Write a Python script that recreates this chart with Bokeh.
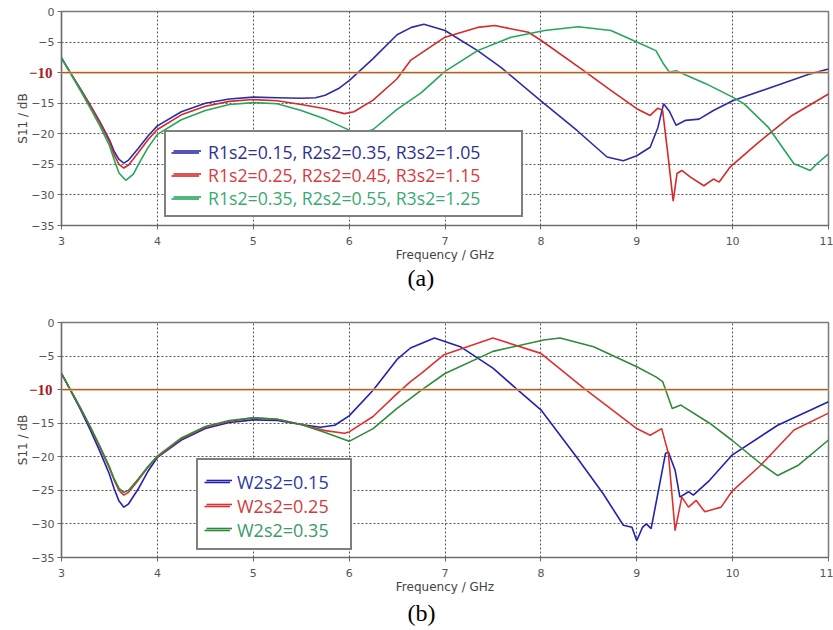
from bokeh.plotting import figure
from bokeh.models import Span, Legend, LegendItem, FixedTicker, Range1d, Title, LinearAxis
from bokeh.layouts import column
from bokeh.embed import file_html
from bokeh.resources import INLINE

# ---------------- data ----------------
FREQ_TICKS = [3, 4, 5, 6, 7, 8, 9, 10, 11]
DB_TICKS = [0, -5, -10, -15, -20, -25, -30, -35]
THRESHOLD_DB = -10

# panel (a)
a_labels = ["R1s2=0.15, R2s2=0.35, R3s2=1.05",
            "R1s2=0.25, R2s2=0.45, R3s2=1.15",
            "R1s2=0.35, R2s2=0.55, R3s2=1.25"]

a_blue_x = [3.0, 3.1, 3.2, 3.3, 3.4, 3.5, 3.55, 3.6, 3.65, 3.7, 3.8, 3.9, 4.0, 4.25, 4.5, 4.75, 5.0, 5.25,
            5.5, 5.65, 5.75, 5.9, 6.0, 6.25, 6.5, 6.65, 6.78, 7.0, 7.34, 7.58, 8.0, 8.38, 8.69, 8.86, 9.0,
            9.14, 9.22, 9.28, 9.34, 9.41, 9.51, 9.65, 9.8, 10.0, 10.46, 10.81, 11.0]
a_blue_y = [-7.6, -10.2, -12.7, -15.3, -18.0, -21.0, -22.9, -24.2, -24.8, -24.3, -22.4, -20.4, -18.7, -16.4,
            -15.0, -14.3, -14.0, -14.1, -14.2, -14.1, -13.7, -12.5, -11.3, -7.7, -3.8, -2.6, -2.1, -3.1, -6.4,
            -9.1, -14.6, -19.5, -23.8, -24.4, -23.6, -22.2, -19.0, -15.1, -16.3, -18.6, -17.8, -17.6, -16.2,
            -14.6, -12.1, -10.2, -9.4]

a_red_x = [3.0, 3.1, 3.2, 3.3, 3.4, 3.5, 3.55, 3.6, 3.65, 3.7, 3.8, 3.9, 4.0, 4.25, 4.5, 4.75, 5.0, 5.25,
           5.5, 5.75, 5.95, 6.05, 6.25, 6.5, 6.64, 7.0, 7.34, 7.52, 7.87, 8.0, 8.45, 8.73, 9.0, 9.14, 9.22,
           9.27, 9.32, 9.38, 9.42, 9.47, 9.56, 9.7, 9.8, 9.86, 9.97, 10.27, 10.62, 11.0]
a_red_y = [-7.6, -10.2, -12.8, -15.4, -18.2, -21.3, -23.5, -25.0, -25.6, -25.1, -23.1, -21.0, -19.3, -16.9,
           -15.5, -14.7, -14.4, -14.6, -15.2, -15.9, -16.7, -16.4, -14.5, -11.0, -8.0, -4.2, -2.6, -2.3, -3.4,
           -4.7, -9.7, -12.9, -15.9, -17.0, -15.8, -16.2, -22.7, -31.0, -26.5, -26.0, -27.1, -28.5, -27.4,
           -27.9, -25.5, -21.4, -17.0, -13.5]

a_green_x = [3.0, 3.1, 3.2, 3.3, 3.4, 3.5, 3.55, 3.6, 3.67, 3.75, 3.8, 3.9, 4.0, 4.25, 4.5, 4.75, 5.0, 5.25,
             5.5, 5.75, 6.0, 6.1, 6.25, 6.5, 6.75, 7.0, 7.34, 7.69, 8.04, 8.39, 8.73, 9.0, 9.2, 9.28, 9.34,
             9.41, 9.72, 10.0, 10.12, 10.37, 10.64, 10.81, 10.88, 11.0]
a_green_y = [-7.6, -10.3, -13.0, -15.8, -18.7, -21.9, -24.3, -26.4, -27.6, -26.6, -25.1, -22.3, -20.1, -17.7,
             -16.2, -15.2, -14.9, -15.1, -16.2, -17.6, -19.4, -20.1, -19.3, -16.0, -13.3, -9.8, -6.4, -4.2,
             -3.1, -2.5, -3.1, -5.0, -6.4, -8.6, -9.9, -9.7, -11.8, -14.0, -15.1, -18.9, -24.9, -26.0, -24.9,
             -23.3]

# panel (b)
b_labels = ["W2s2=0.15", "W2s2=0.25", "W2s2=0.35"]

b_blue_x = [3.0, 3.1, 3.2, 3.3, 3.4, 3.5, 3.55, 3.6, 3.65, 3.7, 3.8, 3.9, 4.0, 4.25, 4.5, 4.75, 5.0, 5.25,
            5.5, 5.7, 5.85, 6.0, 6.25, 6.5, 6.64, 6.89, 7.16, 7.5, 7.74, 8.0, 8.37, 8.65, 8.86, 8.95, 9.0,
            9.06, 9.1, 9.15, 9.24, 9.3, 9.33, 9.4, 9.45, 9.54, 9.59, 9.76, 9.99, 10.47, 11.0]
b_blue_y = [-7.6, -10.3, -13.0, -16.0, -19.2, -22.6, -24.8, -26.6, -27.5, -27.0, -24.8, -22.2, -20.1, -17.5,
            -15.8, -14.9, -14.5, -14.6, -15.2, -15.6, -15.3, -13.9, -10.1, -5.5, -3.8, -2.3, -3.6, -6.8, -9.8,
            -13.0, -20.0, -25.5, -30.2, -30.5, -32.5, -30.5, -30.0, -30.7, -24.0, -19.5, -19.3, -22.0, -26.0,
            -25.2, -25.7, -23.5, -19.8, -15.3, -11.8]

b_red_x = [3.0, 3.1, 3.2, 3.3, 3.4, 3.5, 3.55, 3.6, 3.65, 3.7, 3.8, 3.9, 4.0, 4.25, 4.5, 4.75, 5.0, 5.25,
           5.5, 5.75, 5.95, 6.0, 6.25, 6.5, 6.64, 6.75, 6.99, 7.5, 8.0, 8.45, 9.0, 9.14, 9.26, 9.33, 9.4,
           9.47, 9.54, 9.62, 9.71, 9.88, 9.99, 10.29, 10.64, 11.0]
b_red_y = [-7.6, -10.2, -12.8, -15.6, -18.6, -21.7, -23.5, -25.0, -25.7, -25.3, -23.5, -21.6, -20.0, -17.3,
           -15.6, -14.7, -14.2, -14.4, -15.2, -16.1, -16.5, -16.3, -14.0, -10.6, -8.8, -7.6, -4.8, -2.3, -4.6,
           -9.8, -15.8, -16.8, -15.8, -19.5, -31.0, -26.0, -27.5, -26.5, -28.2, -27.5, -25.2, -21.3, -16.0,
           -13.5]

b_green_x = [3.0, 3.1, 3.2, 3.3, 3.4, 3.5, 3.55, 3.6, 3.65, 3.7, 3.8, 3.9, 4.0, 4.25, 4.5, 4.75, 5.0, 5.25,
             5.5, 5.75, 6.0, 6.25, 6.5, 6.64, 6.75, 7.0, 7.5, 8.03, 8.2, 8.55, 9.0, 9.2, 9.27, 9.37, 9.46,
             9.76, 9.99, 10.29, 10.47, 10.68, 11.0]
b_green_y = [-7.6, -10.2, -12.8, -15.5, -18.4, -21.5, -23.3, -24.7, -25.3, -25.0, -23.3, -21.5, -19.9, -17.2,
             -15.5, -14.6, -14.2, -14.4, -15.2, -16.4, -17.7, -15.8, -12.8, -11.3, -10.1, -7.6, -4.3, -2.6,
             -2.3, -3.6, -6.6, -8.1, -8.8, -12.8, -12.3, -15.0, -17.5, -21.0, -22.8, -21.3, -17.5]

A_LINE_COLORS = ["#2c2ca6", "#d42a2a", "#26a65b"]
A_TEXT_COLORS = ["#2e3192", "#d9393e", "#3aaa70"]
B_LINE_COLORS = ["#2222b0", "#e03030", "#2f8a3a"]
B_TEXT_COLORS = ["#2b3aa8", "#d03c3c", "#3a9a6a"]

TICK_FONT = "DejaVu Sans"
LEGEND_FONT = "Open Sans"
FIG_W = 833


def make_panel(caption, xs, ys, labels, line_colors, text_colors, height, top, bottom, cap_standoff,
               leg_loc, leg_pad, leg_row, leg_glyph_w, leg_standoff, leg_label_w, leg_font_size):
    p = figure(width=FIG_W, height=height,
               x_range=Range1d(FREQ_TICKS[0], FREQ_TICKS[-1]), y_range=Range1d(DB_TICKS[-1], DB_TICKS[0]),
               output_backend="svg", toolbar_location=None,
               min_border_left=61, min_border_right=5, min_border_top=top, min_border_bottom=bottom,
               background_fill_color="white", border_fill_color="white")
    p.outline_line_color = "#7a7a7a"
    p.outline_line_width = 1.5

    for ax in (p.xaxis[0], p.yaxis[0]):
        ax.axis_line_color = "#6a6a6a"
        ax.axis_line_width = 1.2
        ax.major_tick_line_color = "#6a6a6a"
        ax.major_tick_in = 0
        ax.major_tick_out = 4
        ax.minor_tick_line_color = None
        ax.major_label_text_font = TICK_FONT
        ax.major_label_text_font_size = "11px"
        ax.major_label_text_color = "#555555"
        ax.axis_label_text_font = TICK_FONT
        ax.axis_label_text_font_size = "12px"
        ax.axis_label_text_font_style = "normal"
        ax.axis_label_text_color = "#444444"

    p.xaxis.ticker = FixedTicker(ticks=FREQ_TICKS)
    p.yaxis.ticker = FixedTicker(ticks=DB_TICKS)
    p.xaxis.axis_label = "Frequency / GHz"
    p.xaxis.major_label_standoff = 7
    p.xaxis.axis_label_standoff = 0
    p.yaxis.major_label_standoff = 3
    p.yaxis.major_label_overrides = {THRESHOLD_DB: ""}

    # outer left axis: carries the highlighted -10 label and the axis title
    thr_axis = LinearAxis(ticker=FixedTicker(ticks=[THRESHOLD_DB]), axis_label="S11 / dB",
                          axis_line_color=None, major_tick_line_color=None, minor_tick_line_color=None,
                          major_tick_in=0, major_tick_out=0, major_label_standoff=-24,
                          major_label_text_font="Liberation Serif", major_label_text_font_style="bold",
                          major_label_text_font_size="15px", major_label_text_color="#a3201f",
                          axis_label_text_font=TICK_FONT, axis_label_text_font_size="12px",
                          axis_label_text_font_style="normal", axis_label_text_color="#444444",
                          axis_label_standoff=-4)
    p.add_layout(thr_axis, "left")

    for g in (p.xgrid[0], p.ygrid[0]):
        g.grid_line_color = "#3a3a3a"
        g.grid_line_dash = "2 2"
        g.grid_line_width = 1
        g.grid_line_alpha = 0.85

    # -10 dB reference line
    p.add_layout(Span(location=THRESHOLD_DB, dimension="width", line_color="#f5c08e", line_width=2.4))
    p.add_layout(Span(location=THRESHOLD_DB, dimension="width", line_color="#a0501f", line_width=1.0))

    renderers = []
    for x, y, c in zip(xs, ys, line_colors):
        renderers.append(p.line(x, y, line_color=c, line_width=1.6))

    common = dict(padding=leg_pad, spacing=0, label_height=leg_row, glyph_height=leg_row,
                  glyph_width=leg_glyph_w, label_standoff=leg_standoff, label_width=leg_label_w,
                  label_text_font=LEGEND_FONT, label_text_font_size=leg_font_size,
                  margin=0)
    # frame legend (box + sample lines); the coloured texts are drawn by the per-row legends below
    box = Legend(items=[LegendItem(label=" ", renderers=[r]) for r in renderers],
                 location=leg_loc, border_line_color="black", border_line_width=2.5,
                 background_fill_color="white", background_fill_alpha=1.0, **common)
    p.add_layout(box, "center")
    n = len(labels)
    for i, (l, r, tc) in enumerate(zip(labels, renderers, text_colors)):
        li = Legend(items=[LegendItem(label=l, renderers=[r])],
                    location=(leg_loc[0], leg_loc[1] + (n - 1 - i) * leg_row),
                    border_line_alpha=0, background_fill_alpha=0,
                    label_text_color=tc, **common)
        p.add_layout(li, "center")

    p.add_layout(Title(text=caption, align="left", text_font="Liberation Serif",
                       text_font_size="24px", text_font_style="normal", text_color="black",
                       offset=346, standoff=cap_standoff), "below")
    return p


pa = make_panel("(a)", [a_blue_x, a_red_x, a_green_x], [a_blue_y, a_red_y, a_green_y], a_labels,
                A_LINE_COLORS, A_TEXT_COLORS, height=300, top=11, bottom=75, cap_standoff=-4,
                leg_loc=(103, 8), leg_pad=7, leg_row=23, leg_glyph_w=28, leg_standoff=9,
                leg_label_w=304, leg_font_size="17.7px")
pb = make_panel("(b)", [b_blue_x, b_red_x, b_green_x], [b_blue_y, b_red_y, b_green_y], b_labels,
                B_LINE_COLORS, B_TEXT_COLORS, height=330, top=22, bottom=73, cap_standoff=2,
                leg_loc=(135, 7), leg_pad=8, leg_row=24, leg_glyph_w=26, leg_standoff=7,
                leg_label_w=103, leg_font_size="18px")

layout = column(pa, pb, spacing=0)
open("out.html", "w").write(file_html(layout, INLINE))
